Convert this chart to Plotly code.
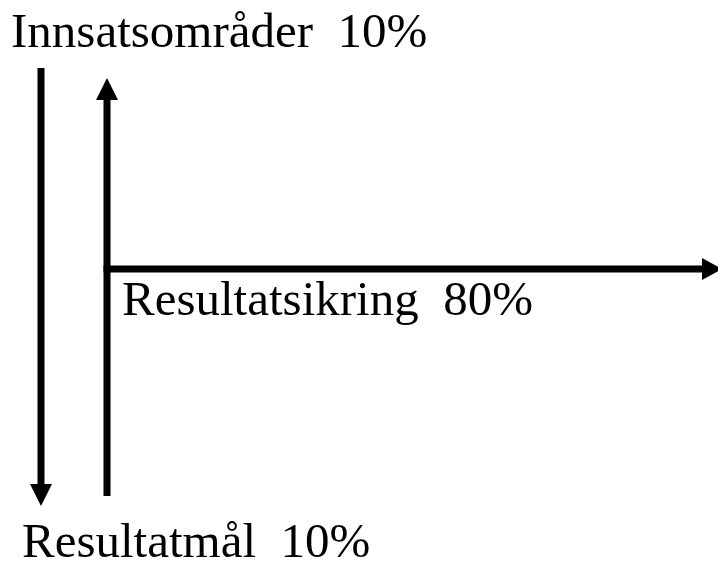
import plotly.graph_objects as go

# Data
labels = ["Innsatsområder", "Resultatsikring", "Resultatmål"]
shares = ["10%", "80%", "10%"]
gaps = [2, 2, 2]

W, H = 718, 563
FONT = "Liberation Serif, Times New Roman, serif"
LW = 7

fig = go.Figure()
fig.add_trace(go.Scatter(x=[0, W], y=[0, H], mode="markers",
                         marker=dict(opacity=0), hoverinfo="skip", showlegend=False))

shapes = []
def vline(x, y0, y1):
    shapes.append(dict(type="line", x0=x, x1=x, y0=y0, y1=y1,
                       line=dict(color="black", width=LW), layer="above"))
def hline(y, x0, x1):
    shapes.append(dict(type="line", x0=x0, x1=x1, y0=y, y1=y,
                       line=dict(color="black", width=LW), layer="above"))
def tri(pts):
    p = "M " + " L ".join(f"{a},{b}" for a, b in pts) + " Z"
    shapes.append(dict(type="path", path=p, fillcolor="black",
                       line=dict(color="black", width=0), layer="above"))

# down arrow
vline(41, 68, 486)
tri([(30, 484), (52, 484), (41, 506)])
# up arrow
vline(107, 496, 98)
tri([(96, 100), (118, 100), (107, 78)])
# horizontal arrow
hline(269, 103.5, 704)
tri([(702, 258), (702, 280), (722, 269)])

pos = [(9, 30), (120, 298), (20, 540)]
annotations = []
for (x, y), lab, sh, g in zip(pos, labels, shares, gaps):
    annotations.append(dict(x=x, y=y, xref="x", yref="y", xanchor="left", yanchor="middle",
                            text=lab + "\u00a0" * g + sh, showarrow=False,
                            font=dict(family=FONT, size=49, color="black")))

fig.update_layout(
    width=W, height=H, margin=dict(l=0, r=0, t=0, b=0),
    paper_bgcolor="white", plot_bgcolor="white",
    xaxis=dict(range=[0, W], visible=False, fixedrange=True),
    yaxis=dict(range=[H, 0], visible=False, fixedrange=True),
    shapes=shapes, annotations=annotations, showlegend=False,
)
fig.write_html("out.html", config={"displayModeBar": False},
               post_script="document.body.style.margin='0';document.body.style.overflow='hidden';")
